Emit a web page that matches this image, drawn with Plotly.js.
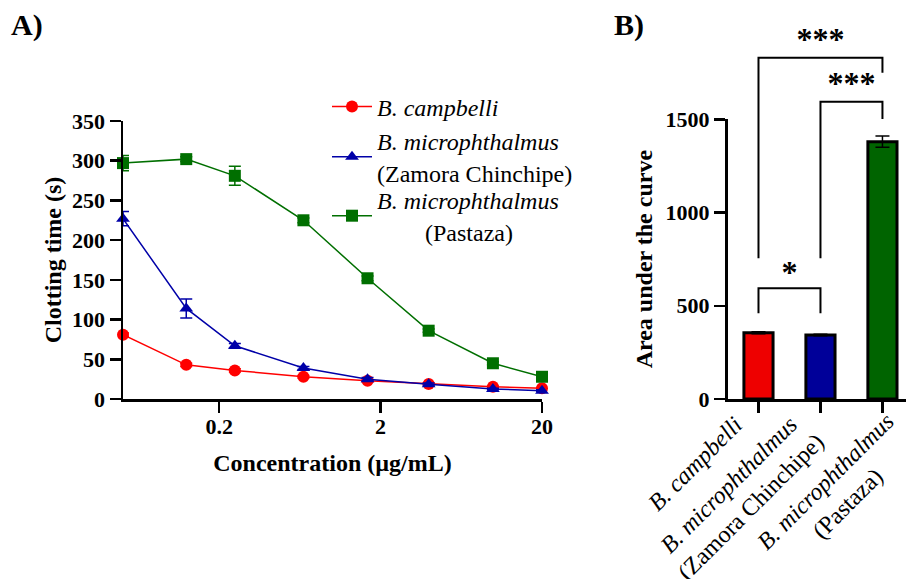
<!DOCTYPE html>
<html><head><meta charset="utf-8">
<script src="https://cdn.plot.ly/plotly-3.0.1.min.js"></script>
<style>html,body{margin:0;padding:0;background:#fff}</style>
</head><body><div id="chart" style="width:906px;height:579px"></div>
<script>
// ---- Panel A data: clotting time vs concentration ----
const concentration = [0.0507, 0.125, 0.25, 0.665, 1.66, 3.97, 9.93, 20];
const campbelli = [81, 43, 36, 28, 23, 19, 15.5, 13.5];
const campbelliErr = [2, 2, 2, 1.5, 1.5, 1, 1, 1];
const zamora = [227, 114, 67, 39, 25, 18.5, 12.6, 10.5];
const zamoraErr = [9, 12, 3, 2, 2, 1.5, 1, 1];
const pastaza = [297, 302, 281, 225, 152, 86, 45, 28];
const pastazaErr = [9.5, 3, 12, 3, 3, 2, 2, 2];
const seriesNames = [
  '<i>B. campbelli</i>',
  '<i>B. microphthalmus</i><br>(Zamora Chinchipe)',
  '<i>B. microphthalmus</i><br>&nbsp;&nbsp;&nbsp;&nbsp;&nbsp;&nbsp;&nbsp;&nbsp;(Pastaza)'
];
const xTickVals = [0.2, 2, 20];
const xTickText = ['0.2', '2', '20'];
const yTickValsA = [0, 50, 100, 150, 200, 250, 300, 350];

// ---- Panel B data: area under the curve ----
const aucPositions = [0, 1, 2];
const aucLabels = [
  '<i>B. campbelli</i>',
  '<i>B. microphthalmus</i><br>(Zamora Chinchipe)',
  '<i>B. microphthalmus</i><br>(Pastaza)'
];
const aucValues = [355, 343, 1380];
const aucErr = [5, 4, 30];
const yTickValsB = [0, 500, 1000, 1500];
// significance comparisons: [from, to, label]
const comparisons = [[0, 2, '***'], [1, 2, '***'], [0, 1, '*']];

const colors = ['#ff0000', '#0000a8', '#006f00'];
const barColors = ['#ee0000', '#000099', '#006400'];
const FONT = 'Liberation Serif, Times New Roman, serif';

const W = 906, H = 579;
const px = v => v / W, py = v => 1 - v / H;

const legendIds = ['legend', 'legend2', 'legend3'];
function lineTrace(y, err, name, color, symbol, legendId) {
  return {
    x: concentration, y: y, name: name, type: 'scatter', mode: 'lines+markers',
    xaxis: 'x', yaxis: 'y', cliponaxis: false, legend: legendId,
    line: {color: color, width: 1.5},
    marker: {color: color, symbol: symbol, size: 12},
    error_y: {type: 'data', array: err, visible: true, color: color, thickness: 1.5, width: 6}
  };
}

const traces = [
  lineTrace(campbelli, campbelliErr, seriesNames[0], colors[0], 'circle', legendIds[0]),
  lineTrace(zamora, zamoraErr, seriesNames[1], colors[1], 'triangle-up', legendIds[1]),
  lineTrace(pastaza, pastazaErr, seriesNames[2], colors[2], 'square', legendIds[2]),
  {
    x: aucPositions, y: aucValues, type: 'bar', xaxis: 'x2', yaxis: 'y2', showlegend: false,
    width: 0.47,
    marker: {color: barColors, line: {color: '#000', width: 3}},
    error_y: {type: 'data', array: aucErr, visible: true, color: '#000', thickness: 1.5, width: 7}
  }
];

// significance brackets drawn on an overlay axis pair that shares panel B's scale
const bracketLevels = [1830, 1594, 594];
const legBottoms = [[755, 1750], [755, 1502], [460, 460]];
const starOffset = [84, 84, 72];
comparisons.forEach((c, i) => {
  const [a, b] = c;
  traces.push({
    x: [a, a, b, b], y: [legBottoms[i][0], bracketLevels[i], bracketLevels[i], legBottoms[i][1]],
    type: 'scatter', mode: 'lines', xaxis: 'x3', yaxis: 'y3', showlegend: false,
    line: {color: '#000', width: 2}, hoverinfo: 'skip'
  });
  traces.push({
    x: [(a + b) / 2], y: [bracketLevels[i] + starOffset[i]], text: [c[2]],
    type: 'scatter', mode: 'text', xaxis: 'x3', yaxis: 'y3', showlegend: false, cliponaxis: false,
    textposition: 'middle center',
    textfont: {family: FONT, size: 32, color: '#000', weight: 'bold'}, hoverinfo: 'skip'
  });
});

const domA_x = [px(123), px(542)];
const domA_y = [py(399), py(121)];
const domB_x = [px(727.5), 1];
const domB_y = [py(399), py(119.3)];
const rangeBx = [-0.5, 2.38];
const domC_y = [py(399), 1];
const y3max = 1500 * (domC_y[1] - domC_y[0]) / (domB_y[1] - domB_y[0]);

const axisCommon = {
  showline: true, linecolor: '#000', linewidth: 2.5, mirror: false,
  ticks: 'outside', ticklen: 11, tickwidth: 2.5, tickcolor: '#000',
  showgrid: false, zeroline: false,
  tickfont: {family: FONT, size: 22, color: '#000', weight: 'bold'}
};
const titleFont = {family: FONT, size: 24, color: '#000', weight: 'bold'};

// category labels of panel B: rotated, centre-aligned multi-line text
const labelXShift = [-10, 10, 40];
const labelYShift = [7, 13, 11];
const catAnnotations = aucLabels.map((t, i) => ({
  text: t, xref: 'x2', yref: 'paper', x: aucPositions[i], y: py(418),
  xanchor: 'right', yanchor: 'top', xshift: labelXShift[i], yshift: labelYShift[i],
  textangle: -45, align: 'center',
  showarrow: false, borderpad: 0, font: {family: FONT, size: 24, color: '#000'}
}));

// one legend box per series so each entry sits at the reference height
const legendCenters = [107, 157, 216];
const legendFont = {family: FONT, size: 24, color: '#000'};
function legendBox(i) {
  return {
    x: px(327), y: py(legendCenters[i]), xanchor: 'left', yanchor: 'middle',
    font: legendFont, bgcolor: 'rgba(0,0,0,0)', itemwidth: 40
  };
}

const layout = {
  width: W, height: H,
  margin: {l: 0, r: 0, t: 0, b: 0},
  paper_bgcolor: '#fff', plot_bgcolor: 'rgba(0,0,0,0)',
  showlegend: true,
  legend: legendBox(0), legend2: legendBox(1), legend3: legendBox(2),
  xaxis: Object.assign({}, axisCommon, {
    type: 'log', domain: domA_x, anchor: 'y',
    range: [Math.log10(0.0507), Math.log10(20)],
    tickvals: xTickVals, ticktext: xTickText, ticklabelstandoff: -5,
    title: {text: 'Concentration (µg/mL)', font: titleFont, standoff: 17}
  }),
  yaxis: Object.assign({}, axisCommon, {
    domain: domA_y, anchor: 'x', range: [0, 350], tickvals: yTickValsA,
    title: {text: 'Clotting time (s)', font: titleFont, standoff: 4}
  }),
  xaxis2: Object.assign({}, axisCommon, {
    domain: domB_x, anchor: 'y2', range: rangeBx,
    tickvals: aucPositions, showticklabels: false
  }),
  yaxis2: Object.assign({}, axisCommon, {
    domain: domB_y, anchor: 'x2', range: [0, 1500], tickvals: yTickValsB,
    title: {text: 'Area under the curve', font: titleFont, standoff: 6}
  }),
  xaxis3: {domain: domB_x, anchor: 'y3', range: rangeBx, visible: false, fixedrange: true},
  yaxis3: {domain: domC_y, anchor: 'x3', range: [0, y3max], visible: false, fixedrange: true},
  annotations: [
    {text: '<b>A)</b>', xref: 'paper', yref: 'paper', x: px(9), y: py(25), xanchor: 'left', yanchor: 'middle',
     showarrow: false, font: {family: FONT, size: 30, color: '#000'}},
    {text: '<b>B)</b>', xref: 'paper', yref: 'paper', x: px(612), y: py(25), xanchor: 'left', yanchor: 'middle',
     showarrow: false, font: {family: FONT, size: 30, color: '#000'}}
  ].concat(catAnnotations)
};

Plotly.newPlot('chart', traces, layout, {displayModeBar: false, staticPlot: true});
</script>
</body></html>
